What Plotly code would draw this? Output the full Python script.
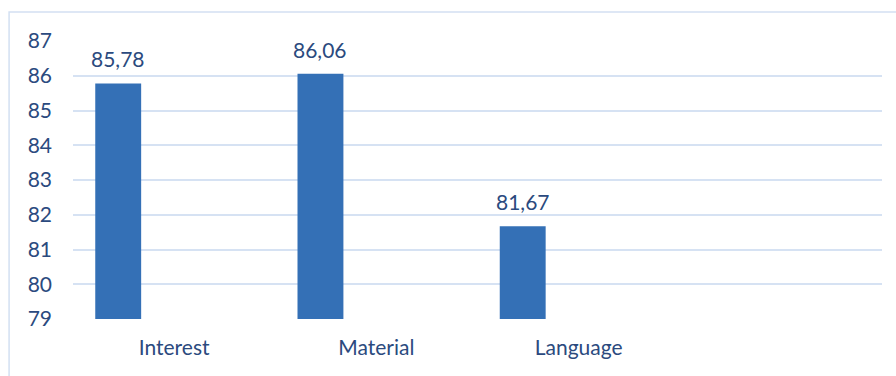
import plotly.graph_objects as go

categories = ["Interest", "Material", "Language"]
values = [85.78, 86.06, 81.67]
y_ticks = [79, 80, 81, 82, 83, 84, 85, 86, 87]
y_base = 79

BAR_OFFSET = -0.39
BAR_WIDTH = 0.227
TEXT_COLOR = "#2b4a7e"
FONT = "Lato"
FS = 21

fig = go.Figure()
fig.add_trace(go.Bar(
    x=categories, y=[v - y_base for v in values], base=y_base,
    offset=BAR_OFFSET, width=BAR_WIDTH,
    marker=dict(color="#3470b6", line=dict(width=0)),
    hoverinfo="x+y",
))

for i, v in enumerate(values):
    fig.add_annotation(
        x=i + BAR_OFFSET + BAR_WIDTH / 2, y=v, xref="x", yref="y",
        text=f"{v:.2f}".replace(".", ","), showarrow=False,
        yanchor="bottom", yshift=10,
        font=dict(family=FONT, size=FS, color=TEXT_COLOR),
    )

fig.add_shape(type="rect", xref="paper", yref="paper",
              x0=-0.079, x1=1.2, y0=-0.4, y1=1.104,
              line=dict(color="#d3e0f2", width=1.5), fillcolor="rgba(0,0,0,0)")

fig.update_layout(
    width=896, height=376,
    margin=dict(l=73, r=14, t=41, b=57),
    paper_bgcolor="white", plot_bgcolor="white",
    showlegend=False,
    font=dict(family=FONT, size=FS, color=TEXT_COLOR),
)
fig.update_xaxes(type="category", range=[-0.5, 3.5], showgrid=False,
                 showline=False, zeroline=False, ticks="",
                 ticklabelstandoff=14,
                 tickfont=dict(family=FONT, size=FS, color=TEXT_COLOR))
fig.update_yaxes(range=[79, 87], tickvals=y_ticks, showgrid=True,
                 gridcolor="#d6e2f3", gridwidth=1.5, zeroline=False,
                 showline=False, ticks="", ticklabelstandoff=20,
                 tickfont=dict(family=FONT, size=FS, color=TEXT_COLOR))

fig.write_html("out.html")
